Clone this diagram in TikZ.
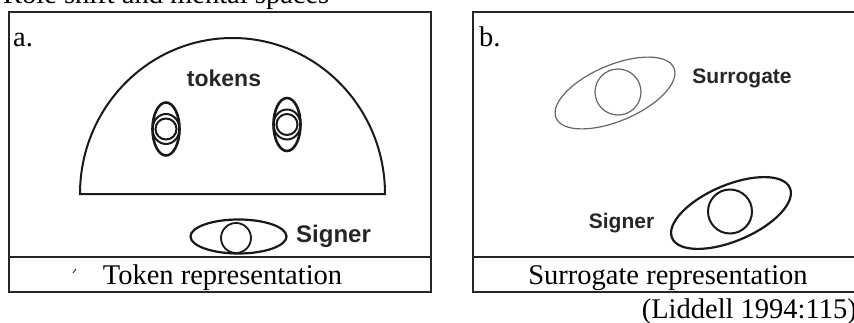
\documentclass[tikz,border=0pt]{standalone}
\usepackage{fontspec}
\setmainfont{Liberation Serif}
\newfontfamily\lsans{Liberation Sans}
\begin{document}
\begin{tikzpicture}[x=1pt,y=1pt,
  panel/.style={draw=black!85,line width=1.2pt},
  serif/.style={font=\fontsize{28.5}{30}\selectfont, inner sep=0pt},
  lblbig/.style={font=\lsans\bfseries\fontsize{23}{25}\selectfont, inner sep=0pt, text=black!85},
  lblsmall/.style={font=\lsans\bfseries\fontsize{21}{23}\selectfont, inner sep=0pt, text=black!85},
  thick2/.style={line width=2.2pt, draw=black!90},
  thin2/.style={line width=1.2pt, draw=black!60}]
\useasboundingbox (0,0) rectangle (854,322);
% title (cut off at the top)
\node[serif, anchor=base west] (title) at (3,318) {Role shift and mental spaces};
% ---------- panel a ----------
\draw[panel] (9,30) rectangle (431,310);
\coordinate (aL) at (9,65);
\coordinate (aR) at (431,65);
\draw[panel] (aL) -- (aR);
\node[serif, anchor=base west] (alab) at (13,275) {a.};
\draw[thick2, line width=2pt] (80,128) arc[start angle=180, end angle=0, x radius=152.5, y radius=156] -- cycle;
\node[lblbig] (tokens) at (224,244) {tokens};
% tokens
\foreach \cx/\cy in {166/193, 287/197.5}{
  \draw[thick2, line width=2.6pt] (\cx,\cy) ellipse [x radius=13.5, y radius=26.5];
  \draw[thick2, line width=2pt] (\cx,\cy) ellipse [x radius=13.5, y radius=15];
  \draw[thick2, line width=2pt] (\cx,\cy) circle [radius=10.5];
}
% signer a
\draw[thick2] (238.5,85.5) ellipse [x radius=48, y radius=17];
\draw[thick2, line width=1.8pt] (236,84) circle [radius=15];
\node[lblbig, font=\lsans\bfseries\fontsize{24}{26}\selectfont, anchor=west] (signA) at (296,86) {Signer};
\draw[line width=1pt, black!80] (73,49) -- (76,53);
\node[serif, anchor=base] (capA) at (222.5,38) {Token representation};
% ---------- panel b ----------
\draw[panel] (473,30) rectangle (862,310);
\coordinate (bL) at (473,65);
\coordinate (bR) at (862,65);
\draw[panel] (bL) -- (bR);
\node[serif, anchor=base west] (blab) at (479,275) {b.};
% surrogate
\draw[thin2, rotate around={23:(615,229)}] (615,229) ellipse [x radius=64, y radius=28];
\draw[thin2] (618,230) circle [radius=23];
\node[lblsmall] (surr) at (742,244) {Surrogate};
% signer b
\draw[thick2, rotate around={23:(731,109)}] (731,109) ellipse [x radius=64, y radius=28];
\draw[thick2, line width=2pt] (730,110.5) circle [radius=22];
\node[lblsmall] (signB) at (621.5,99) {Signer};
\node[serif, anchor=base] (capB) at (668,38) {Surrogate representation};
\node[serif, anchor=base east] (cite) at (857,4) {(Liddell 1994:115)};
\end{tikzpicture}
\end{document}
